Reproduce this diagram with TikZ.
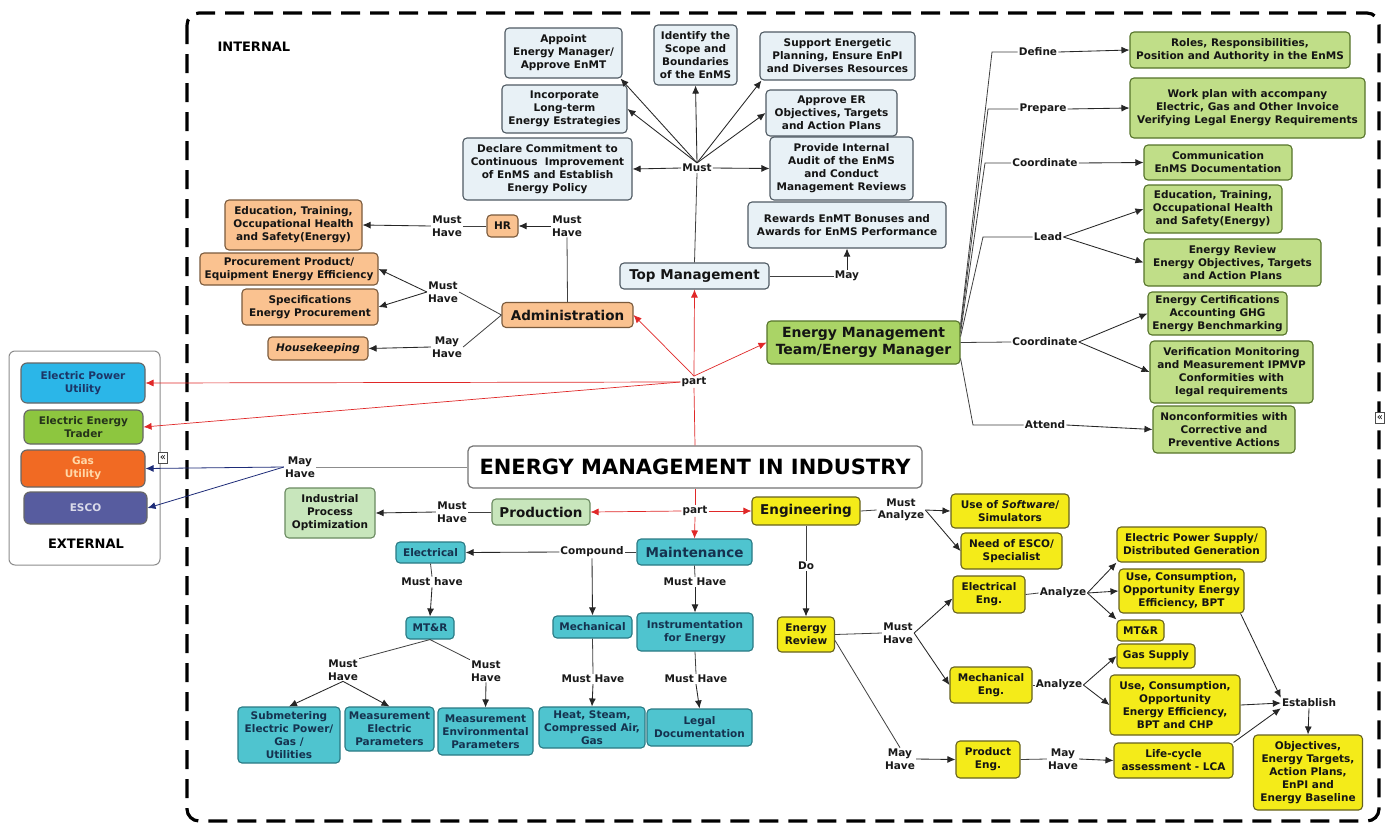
\documentclass[tikz,border=0pt]{standalone}
\usepackage{fontspec}
\setmainfont{DejaVu Sans}
\usetikzlibrary{arrows.meta}
\definecolor{tmF}{HTML}{E8F1F6}
\definecolor{tmD}{HTML}{4F5A63}
\definecolor{adF}{HTML}{FAC290}
\definecolor{adD}{HTML}{7A5A3C}
\definecolor{grF}{HTML}{C0DE88}
\definecolor{emtF}{HTML}{AAD466}
\definecolor{grD}{HTML}{56742A}
\definecolor{plF}{HTML}{C8E6BC}
\definecolor{plD}{HTML}{6A8A60}
\definecolor{cyF}{HTML}{4FC4CF}
\definecolor{cyD}{HTML}{2A7A84}
\definecolor{cyT}{HTML}{15324F}
\definecolor{yeF}{HTML}{F4EB19}
\definecolor{yeD}{HTML}{66621F}
\definecolor{epuF}{HTML}{2BB6E8}
\definecolor{epuT}{HTML}{1C3566}
\definecolor{eetF}{HTML}{8DC63F}
\definecolor{eetT}{HTML}{25331A}
\definecolor{gasF}{HTML}{F16A23}
\definecolor{gasT}{HTML}{FFD8A8}
\definecolor{escoF}{HTML}{575C9F}
\definecolor{escoT}{HTML}{DADAEA}
\definecolor{redA}{HTML}{E02828}
\definecolor{bluA}{HTML}{1E2C78}
\begin{document}
\begin{tikzpicture}[x=1pt,y=-1pt,
  bx/.style={rounded corners=4pt, line width=1.1pt, align=center, inner sep=0.5pt, text=black!92,
    font=\fontsize{10.5}{13}\selectfont\bfseries},
  big/.style={font=\fontsize{13.5}{16}\selectfont\bfseries},
  tm/.style={bx, draw=tmD, fill=tmF},
  ad/.style={bx, draw=adD, fill=adF},
  gr/.style={bx, draw=grD, fill=grF},
  pl/.style={bx, draw=plD, fill=plF},
  cy/.style={bx, draw=cyD, fill=cyF, text=cyT},
  ye/.style={bx, draw=yeD, fill=yeF},
  ext/.style={bx, draw=black!60, rounded corners=6pt},
  lb/.style={font=\fontsize{10.5}{12.5}\selectfont\bfseries, align=center, inner sep=1pt, text=black!90},
  ln/.style={line width=0.8pt, draw=black!75},
  ar/.style={-{Latex[length=8pt,width=7pt]}, line width=0.85pt, draw=black!85},
  rdl/.style={line width=0.7pt, draw=redA},
  rd/.style={-{Latex[length=8pt,width=7pt]}, line width=0.7pt, draw=redA},
  bl/.style={-{Latex[length=8pt,width=7pt]}, line width=0.8pt, draw=bluA},
  icon/.style={draw=black!70, line width=0.6pt, inner sep=0pt, minimum width=9pt, minimum height=11pt, fill=white, font=\fontsize{10}{10}\selectfont}
]
\useasboundingbox (0,0) rectangle (1389,825);
\fill[white] (0,0) rectangle (1389,825);

% frames
\draw[line width=3.2pt, dash pattern=on 19pt off 10pt, rounded corners=12pt] (187,13) rectangle (1379,821);
\draw[black!45, line width=1pt, rounded corners=6pt] (9,351) rectangle (160,565);
\node[font=\fontsize{13}{15}\selectfont\bfseries, anchor=west] (internal) at (214,47) {INTERNAL};
\node[font=\fontsize{13}{15}\selectfont\bfseries] (external) at (86,544) {EXTERNAL};

% external
\node[ext, fill=epuF, text=epuT, minimum width=124pt, minimum height=40pt] (epu) at (83,383) {Electric Power\\Utility};
\node[ext, fill=eetF, text=eetT, minimum width=119pt, minimum height=34pt] (eet) at (83.5,427) {Electric Energy\\Trader};
\node[ext, fill=gasF, text=gasT, minimum width=124pt, minimum height=37pt] (gas) at (83,468.5) {Gas\\Utility};
\node[ext, fill=escoF, text=escoT, minimum width=123pt, minimum height=32pt] (esco) at (85.5,508) {ESCO};

% top management
\node[tm, minimum width=117pt, minimum height=50pt] (appoint) at (563.5,53) {Appoint\\Energy Manager/\\Approve EnMT};
\node[tm, minimum width=83pt, minimum height=60pt] (identify) at (695.5,55) {Identify the\\Scope and\\Boundaries\\of the EnMS};
\node[tm, minimum width=155pt, minimum height=48pt] (support) at (837.5,56) {Support Energetic\\Planning, Ensure EnPI\\and Diverses Resources};
\node[tm, minimum width=125pt, minimum height=48pt] (incorp) at (564.5,109) {Incorporate\\Long-term\\Energy Estrategies};
\node[tm, minimum width=131pt, minimum height=46pt] (approve) at (831.5,113) {Approve ER\\Objectives, Targets\\and Action Plans};
\node[tm, minimum width=169pt, minimum height=62pt] (declare) at (547.5,169) {Declare Commitment to\\Continuous\ \ Improvement\\of EnMS and Establish\\Energy Policy};
\node[tm, minimum width=143pt, minimum height=63pt] (provide) at (841.5,168.5) {Provide Internal\\Audit of the EnMS\\and Conduct\\Management Reviews};
\node[tm, minimum width=198pt, minimum height=46pt] (rewards) at (847,225) {Rewards EnMT Bonuses and\\Awards for EnMS Performance};
\node[tm, big, minimum width=149pt, minimum height=26pt] (topm) at (694.5,276) {Top Management};
\node[lb] (must) at (697,168) {Must};
\node[lb] (may) at (847,276) {May};

% administration
\node[ad, minimum width=137pt, minimum height=50pt] (eduA) at (293.5,225) {Education, Training,\\Occupational Health\\and Safety(Energy)};
\node[ad, minimum width=178pt, minimum height=32pt] (proc) at (289,269) {Procurement Product/\\Equipment Energy Efficiency};
\node[ad, minimum width=136pt, minimum height=36pt] (spec) at (310,307) {Specifications\\Energy Procurement};
\node[ad, minimum width=100pt, minimum height=23pt] (house) at (318,348.5) {\itshape Housekeeping};
\node[ad, minimum width=31pt, minimum height=22pt] (hr) at (502.5,226) {HR};
\node[ad, big, minimum width=131pt, minimum height=25pt] (adm) at (567.5,315) {Administration};
\node[lb] (mhhr) at (567,226) {Must\\Have};
\node[lb] (mhedu) at (447,226) {Must\\Have};
\node[lb] (mhproc) at (443,292) {Must\\Have};
\node[lb] (mayhouse) at (447,347) {May\\Have};

% energy management team
\node[gr, fill=emtF, font=\fontsize{14}{17}\selectfont\bfseries, minimum width=193pt, minimum height=43pt] (emt) at (863.5,342.5) {Energy Management\\Team/Energy Manager};
\node[gr, minimum width=220pt, minimum height=36pt] (roles) at (1240,50) {Roles, Responsibilities,\\Position and Authority in the EnMS};
\node[gr, minimum width=235pt, minimum height=60pt] (work) at (1247.5,108) {Work plan with accompany\\Electric, Gas and Other Invoice\\Verifying Legal Energy Requirements};
\node[gr, minimum width=148pt, minimum height=35pt] (comm) at (1218,162.5) {Communication\\EnMS Documentation};
\node[gr, minimum width=138pt, minimum height=48pt] (eduB) at (1213,209) {Education, Training,\\Occupational Health\\and Safety(Energy)};
\node[gr, minimum width=177pt, minimum height=47pt] (erB) at (1232.5,262.5) {Energy Review\\Energy Objectives, Targets\\and Action Plans};
\node[gr, minimum width=139pt, minimum height=43pt] (cert) at (1217.5,313.5) {Energy Certifications\\Accounting GHG\\Energy Benchmarking};
\node[gr, minimum width=163pt, minimum height=62pt] (verif) at (1231.5,372) {Verification Monitoring\\and Measurement IPMVP\\Conformities with\\legal requirements};
\node[gr, minimum width=142pt, minimum height=47pt] (nonc) at (1224,429.5) {Nonconformities with\\Corrective and\\Preventive Actions};
\node[lb] (ldef) at (1038,52) {Define};
\node[lb] (lprep) at (1043,109) {Prepare};
\node[lb] (lcoA) at (1045,163) {Coordinate};
\node[lb] (llead) at (1048,237) {Lead};
\node[lb] (lcoB) at (1045,342) {Coordinate};
\node[lb] (latt) at (1045,425) {Attend};

% central
\node[draw=black!55, fill=white, line width=1.2pt, rounded corners=5pt, font=\fontsize{21}{24}\selectfont\bfseries, minimum width=454pt, minimum height=42pt] (emi) at (695,467) {ENERGY MANAGEMENT IN INDUSTRY};
\node[lb] (partA) at (694,382) {part};
\node[lb] (partB) at (695,511) {part};
\node[lb] (mayext) at (300,467) {May\\Have};

% production / maintenance
\node[pl, big, minimum width=98pt, minimum height=26pt] (prod) at (541,512) {Production};
\node[pl, minimum width=90pt, minimum height=50pt] (ipo) at (330,513) {Industrial\\Process\\Optimization};
\node[lb] (mhprod) at (452,512) {Must\\Have};
\node[cy, big, minimum width=115pt, minimum height=26pt] (maint) at (694.5,552) {Maintenance};
\node[lb] (comp) at (592,552) {Compound};
\node[cy, minimum width=69pt, minimum height=21pt] (elec) at (430.5,552.5) {Electrical};
\node[lb] (mhelec) at (432,582) {Must have};
\node[cy, minimum width=48pt, minimum height=22pt] (mtr) at (430,628) {MT\&R};
\node[lb] (mhma) at (343,670) {Must\\Have};
\node[lb] (mhmb) at (486,671) {Must\\Have};
\node[cy, minimum width=102pt, minimum height=56pt] (subm) at (289,735) {Submetering\\Electric Power/\\Gas /\\Utilities};
\node[cy, minimum width=89pt, minimum height=44pt] (measel) at (389.5,729) {Measurement\\Electric\\Parameters};
\node[cy, minimum width=95pt, minimum height=47pt] (measenv) at (485.5,731.5) {Measurement\\Environmental\\Parameters};
\node[cy, minimum width=79pt, minimum height=22pt] (mech) at (592.5,627) {Mechanical};
\node[cy, minimum width=116pt, minimum height=38pt] (instr) at (695,632) {Instrumentation\\for Energy};
\node[lb] (mhmaint) at (695,582) {Must Have};
\node[lb] (mhmech) at (593,679) {Must Have};
\node[lb] (mhinstr) at (696,679) {Must Have};
\node[cy, minimum width=106pt, minimum height=41pt] (heat) at (592,727.5) {Heat, Steam,\\Compressed Air,\\Gas};
\node[cy, minimum width=105pt, minimum height=37pt] (legal) at (699.5,727.5) {Legal\\Documentation};

% engineering
\node[ye, big, minimum width=108pt, minimum height=28pt] (eng) at (806,511) {Engineering};
\node[lb] (mustan) at (901,510) {Must\\Analyze};
\node[ye, minimum width=118pt, minimum height=34pt] (sw) at (1010,511) {Use of \textit{Software}/\\Simulators};
\node[ye, minimum width=101pt, minimum height=36pt] (esc) at (1011.5,551) {Need of ESCO/\\Specialist};
\node[lb] (do) at (806,566) {Do};
\node[ye, minimum width=57pt, minimum height=35pt] (er) at (806,634.5) {Energy\\Review};
\node[lb] (mher) at (898,633) {Must\\Have};
\node[ye, minimum width=72pt, minimum height=37pt] (eleng) at (989,594.5) {Electrical\\Eng.};
\node[lb] (anA) at (1063,593) {Analyze};
\node[ye, minimum width=149pt, minimum height=35pt] (eps) at (1191.5,544.5) {Electric Power Supply/\\Distributed Generation};
\node[ye, minimum width=125pt, minimum height=44pt] (useA) at (1181.5,591) {Use, Consumption,\\Opportunity Energy\\Efficiency, BPT};
\node[ye, minimum width=47pt, minimum height=21pt] (mtrB) at (1140.5,630.5) {MT\&R};
\node[ye, minimum width=78pt, minimum height=24pt] (gass) at (1156,656) {Gas Supply};
\node[ye, minimum width=82pt, minimum height=36pt] (mecheng) at (991,685) {Mechanical\\Eng.};
\node[lb] (anB) at (1059,685) {Analyze};
\node[ye, minimum width=130pt, minimum height=60pt] (useB) at (1175,705) {Use, Consumption,\\Opportunity\\Energy Efficiency,\\BPT and CHP};
\node[lb] (est) at (1309,703) {Establish};
\node[ye, minimum width=109pt, minimum height=75pt] (obj) at (1308,772.5) {Objectives,\\Energy Targets,\\Action Plans,\\EnPI and\\Energy Baseline};
\node[lb] (mayer) at (900,759) {May\\Have};
\node[ye, minimum width=64pt, minimum height=37pt] (prodeng) at (988,759.5) {Product\\Eng.};
\node[lb] (mayB) at (1063,759) {May\\Have};
\node[ye, minimum width=119pt, minimum height=35pt] (lca) at (1173.5,760.5) {Life-cycle\\assessment - LCA};

% small icons
\node[icon] (icA) at (163,458) {«};
\node[icon] (icB) at (1380,418) {«};

% ---- connectors: top management
\draw[ln] (topm.north) -- (must.south);
\draw[ar] (must.north) -- ([xshift=-2pt]appoint.south east);
\draw[ar] (must.north) -- (incorp.east);
\draw[ar] (must.north) -- (identify.south);
\draw[ar] (must.north) -- ([xshift=2pt]support.south west);
\draw[ar] (must.north) -- (approve.west);
\draw[ar] (must.east) -- (provide.west);
\draw[ar] (must.west) -- (declare.east);
\draw[ln] (topm.east) -- (may.west);
\draw[ar] (may.north) -- (rewards.south);

% administration
\draw[ln] (adm.north) -- (mhhr.south);
\draw[ar] (mhhr.west) -- (hr.east);
\draw[ln] (hr.west) -- (mhedu.east);
\draw[ar] (mhedu.west) -- (eduA.east);
\draw[ln] (adm.west) -- (mhproc.east);
\draw[ar] (mhproc.west) -- (proc.east);
\draw[ar] (mhproc.west) -- (spec.east);
\draw[ln] (adm.west) -- (mayhouse.east);
\draw[ar] (mayhouse.west) -- (house.east);

% part (upper)
\draw[rdl] (emi.north) -- (partA.south);
\draw[rd] (partA.north) -- (adm.east);
\draw[rd] (partA.north) -- (topm.south);
\draw[rd] (partA.north) -- (emt.west);
\draw[rd] (partA.west) -- (epu.east);
\draw[rd] (partA.west) -- (eet.east);

% external may have
\draw[ln, draw=black!45] (emi.west) -- (mayext.east);
\draw[bl] (mayext.west) -- (gas.east);
\draw[bl] (mayext.west) -- (esco.east);

% EMT
\draw[ln] ([yshift=18pt]emt.east) -- (992,52) -- (ldef.west);
\draw[ar] (ldef.east) -- (roles.west);
\draw[ln] ([yshift=14pt]emt.east) -- (988,109) -- (lprep.west);
\draw[ar] (lprep.east) -- (work.west);
\draw[ln] ([yshift=10pt]emt.east) -- (985,163) -- (lcoA.west);
\draw[ar] (lcoA.east) -- (comm.west);
\draw[ln] ([yshift=6pt]emt.east) -- (983,237) -- (llead.west);
\draw[ar] (llead.east) -- (eduB.west);
\draw[ar] (llead.east) -- (erB.west);
\draw[ln] (emt.east) -- (lcoB.west);
\draw[ar] (lcoB.east) -- (cert.west);
\draw[ar] (lcoB.east) -- (verif.west);
\draw[ln] ([yshift=-16pt]emt.east) -- (973,425) -- (latt.west);
\draw[ar] (latt.east) -- (nonc.west);

% part (lower)
\draw[rdl] (emi.south) -- (partB.north);
\draw[rd] (partB.west) -- (prod.east);
\draw[rd] (partB.east) -- (eng.west);
\draw[rd] (partB.south) -- (maint.north);

% production / maintenance
\draw[ln] (prod.west) -- (mhprod.east);
\draw[ar] (mhprod.west) -- (ipo.east);
\draw[ln] (maint.west) -- (comp.east);
\draw[ar] (comp.west) -- (elec.east);
\draw[ar] (comp.south) -- (mech.north);
\draw[ln] (elec.south) -- (mhelec.north);
\draw[ar] (mhelec.south) -- (mtr.north);
\draw[ln] (mtr.south) -- (mhma.north east);
\draw[ar] (mhma.south) -- (subm.north);
\draw[ar] (mhma.south) -- (measel.north);
\draw[ln] (mtr.south) -- (mhmb.north west);
\draw[ar] (mhmb.south) -- (measenv.north);
\draw[ln] (maint.south) -- (mhmaint.north);
\draw[ar] (mhmaint.south) -- (instr.north);
\draw[ln] (mech.south) -- (mhmech.north);
\draw[ar] (mhmech.south) -- (heat.north);
\draw[ln] (instr.south) -- (mhinstr.north);
\draw[ar] (mhinstr.south) -- (legal.north);

% engineering
\draw[ln] (eng.east) -- (mustan.west);
\draw[ar] (mustan.east) -- (sw.west);
\draw[ar] (mustan.east) -- (esc.west);
\draw[ln] (eng.south) -- (do.north);
\draw[ar] (do.south) -- (er.north);
\draw[ln] (er.east) -- (mher.west);
\draw[ar] (mher.east) -- ([yshift=-4pt]eleng.west);
\draw[ar] (mher.east) -- (mecheng.west);
\draw[ln] ([yshift=-6pt]er.east) -- (mayer.north);
\draw[ar] (mayer.east) -- (prodeng.west);
\draw[ln] (eleng.east) -- (anA.west);
\draw[ar] (anA.east) -- (eps.south west);
\draw[ar] (anA.east) -- (useA.west);
\draw[ar] (anA.east) -- (mtrB.north west);
\draw[ln] (mecheng.east) -- (anB.west);
\draw[ar] (anB.east) -- (gass.west);
\draw[ar] (anB.east) -- (useB.west);
\draw[ln] (prodeng.east) -- (mayB.west);
\draw[ar] (mayB.east) -- (lca.west);
\draw[ar] ([xshift=-4pt]useA.south east) -- (est.north west);
\draw[ar] (useB.east) -- (est.west);
\draw[ar] (lca.north east) -- (est.south west);
\draw[ar] (est.south) -- (obj.north);
\end{tikzpicture}
\end{document}
